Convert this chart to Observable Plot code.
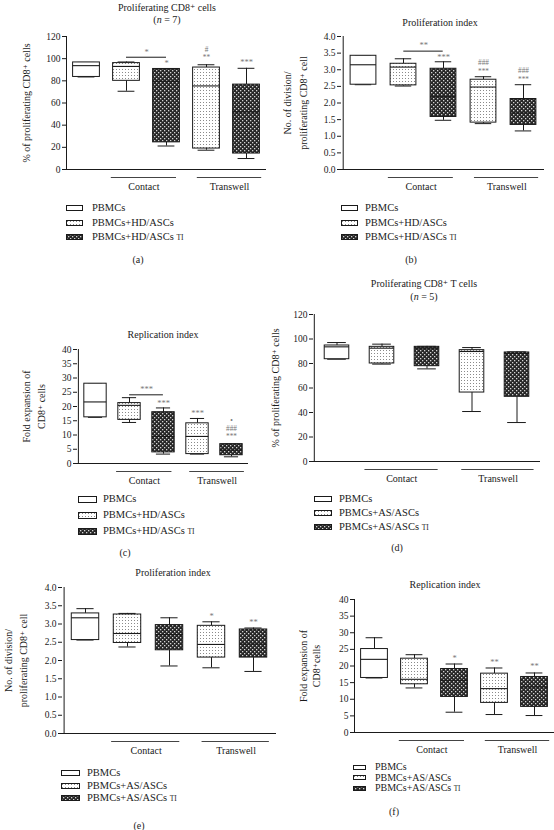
<!DOCTYPE html>
<html><head><meta charset="utf-8">
<script src="https://cdn.jsdelivr.net/npm/d3@7"></script>
<script src="https://cdn.jsdelivr.net/npm/@observablehq/plot@0.6"></script>
<style>
body{margin:0;background:#fff;}
#page{position:relative;width:554px;height:830px;overflow:hidden;font-family:"Liberation Serif","DejaVu Serif",serif;color:#222;}
#page svg.plot{position:absolute;overflow:visible;}
.t{position:absolute;transform:translate(-50%,-50%);white-space:nowrap;font-size:10px;line-height:1;}
.lg{position:absolute;transform:translateY(-50%);white-space:nowrap;font-size:10.5px;line-height:1;}
.sw{position:absolute;}
</style></head>
<body>
<svg width="0" height="0" style="position:absolute">
<defs>
<pattern id="pDots" width="3" height="3" patternUnits="userSpaceOnUse">
<rect width="3" height="3" fill="#fff"/><rect x="1" y="1" width="1" height="1" fill="#8a8a8a"/>
</pattern>
<pattern id="pDark" width="4" height="4" patternUnits="userSpaceOnUse">
<rect width="4" height="4" fill="#262626"/><rect x="0" y="0" width="1.3" height="1.3" fill="#d4d4d4"/><rect x="2" y="2" width="1.3" height="1.3" fill="#d4d4d4"/>
</pattern>
</defs></svg>
<div id="page"></div>
<script>
// ---------- data ----------
const categories = ["PBMCs", "ASCs|Contact", "ASCs TI|Contact", "ASCs|Transwell", "ASCs TI|Transwell"];
const seriesOf = ["PBMCs", "ASCs", "ASCs TI", "ASCs", "ASCs TI"];
const seriesNames = ["PBMCs", "ASCs", "ASCs TI"];
const groupNames = ["Contact", "Transwell"];
const groupFrom = [1, 3];
const groupTo = [2, 4];

const legendHD = ["PBMCs", "PBMCs+HD/ASCs", "PBMCs+HD/ASCs TI"];
const legendAS = ["PBMCs", "PBMCs+AS/ASCs", "PBMCs+AS/ASCs TI"];

// box stats per category: [min, q1, median, q3, max]
const boxA = [[83.5, 83.5, 93.7, 96.6, 96.6], [70.6, 80, 93, 96, 97], [21.2, 24.5, 79.6, 90.7, 90.7], [17.4, 18.9, 75.4, 92, 94.5], [9.9, 14.4, 52, 76.6, 91.3]];
const boxB = [[2.55, 2.55, 3.15, 3.42, 3.42], [2.51, 2.53, 3.08, 3.18, 3.33], [1.48, 1.58, 2.19, 3.03, 3.24], [1.38, 1.41, 2.48, 2.70, 2.79], [1.16, 1.34, 1.70, 2.12, 2.55]];
const boxC = [[16.2, 16.2, 21.6, 28, 28], [14.4, 15.3, 20.4, 21.2, 23.1], [3.3, 3.9, 9.5, 18, 19.5], [3.3, 3.3, 9.5, 14.1, 15.8], [2.35, 2.9, 4.7, 6.8, 6.8]];
const boxD = [[83.5, 83.5, 93.6, 94.7, 97.1], [79.5, 80, 92.5, 93.6, 95.8], [75.6, 77.8, 92.5, 93.6, 94], [40.8, 56.3, 89.8, 90.9, 93], [31.8, 52.8, 88.2, 89, 89.5]];
const boxE = [[2.56, 2.56, 3.17, 3.29, 3.42], [2.37, 2.48, 2.74, 3.26, 3.29], [1.85, 2.28, 2.71, 2.97, 3.17], [1.80, 2.08, 2.44, 2.95, 3.06], [1.70, 2.08, 2.45, 2.85, 2.89]];
const boxF = [[16.4, 16.4, 22, 25.1, 28.5], [13.4, 14.5, 16, 22.2, 23.4], [6.1, 10.7, 15.7, 19.1, 20.6], [5.4, 8.9, 13.2, 17.7, 19.4], [5.1, 7.7, 13.7, 16.7, 17.9]];

// significance marks: [category index, y value (centre), label (stacked lines)]
const annA = [[2, 95.9, "*"], [3, 104.4, "#\n**"], [4, 96.8, "***"]];
const annB = [[2, 3.38, "***"], [3, 3.095, "###\n***"], [4, 2.855, "###\n***"]];
const annC = [[2, 21.3, "***"], [3, 17.6, "***"], [4, 12.3, "•\n###\n***"]];
const annD = [];
const annE = [[3, 3.2, "*"], [4, 3.06, "**"]];
const annF = [[2, 22.2, "*"], [3, 21.2, "**"], [4, 19.9, "**"]];

// comparison brackets: [from index, to index, y value, label, label y]
const bracketA = [[1, 2, 101.3, "*", 105.9]];
const bracketB = [[1, 2, 3.56, "**", 3.73]];
const bracketC = [[1, 2, 24.1, "***", 26.0]];

const titles = ["Proliferating CD8⁺ cells", "Proliferation index", "Replication index", "Proliferating CD8⁺ T cells", "Proliferation index", "Replication index"];
const subtitles = ["(n = 7)", "", "", "(n = 5)", "", ""];
const ylabels = ["% of proliferating CD8⁺ cells", "No. of division/\nproliferating CD8⁺ cell", "Fold expansion of\nCD8⁺ cells", "% of proliferating CD8⁺ cells", "No. of division/\nproliferating CD8⁺ cell", "Fold expansion of\nCD8⁺cells"];
const letters = ["(a)", "(b)", "(c)", "(d)", "(e)", "(f)"];

// ---------- styles / layout ----------
const seriesFill = ["#fff", "url(#pDots)", "url(#pDark)"];
const ink = "#1a1a1a";
const fmtInt = d => String(d);
const fmt1 = d => d.toFixed(1);

const panels = [
  {boxes: boxA, ann: annA, br: bracketA, legend: legendHD, left: -8, axisX: 66, xEnd: 266, yTop: 36, yBot: 169, max: 120, step: 20, fmt: fmtInt, boxFrac: 0.67, labelDx: -41, lineH: 1.5, annLH: 1.1,
   titleX: 167, titleY: [8, 20], lgSw: 66, lgTx: 92, lgY: [208, 222.5, 237], sw: [17, 6], letterX: 138, letterY: 260},
  {boxes: boxB, ann: annB, br: bracketB, legend: legendHD, left: 269, axisX: 341, xEnd: 544, yTop: 36, yBot: 169, max: 4, step: 0.5, fmt: fmt1, boxFrac: 0.65, labelDx: -47.5, lineH: 1.6, annLH: 1.2,
   titleX: 440, titleY: [23], lgSw: 341, lgTx: 365, lgY: [208, 222.5, 237], sw: [17, 6], letterX: 411, letterY: 260},
  {boxes: boxC, ann: annC, br: bracketC, legend: legendHD, left: -8, axisX: 77, xEnd: 248, yTop: 349, yBot: 463, max: 40, step: 5, fmt: fmtInt, boxFrac: 0.66, labelDx: -44.5, lineH: 1.5, annLH: 1.1,
   titleX: 163, titleY: [335], lgSw: 78, lgTx: 103, lgY: [499, 515, 531], sw: [19, 7], letterX: 125, letterY: 553},
  {boxes: boxD, ann: annD, br: [], legend: legendAS, left: 262, axisX: 313, xEnd: 540, yTop: 314, yBot: 461, max: 120, step: 20, fmt: fmtInt, boxFrac: 0.55, labelDx: -39, lineH: 1.5, annLH: 1,
   titleX: 424, titleY: [284, 297], lgSw: 314, lgTx: 339, lgY: [499, 513, 527], sw: [18, 6], letterX: 397, letterY: 548},
  {boxes: boxE, ann: annE, br: [], legend: legendAS, left: -8, axisX: 62, xEnd: 276, yTop: 587, yBot: 733, max: 4, step: 0.5, fmt: fmt1, boxFrac: 0.66, labelDx: -47.5, lineH: 1.45, annLH: 1,
   titleX: 173, titleY: [573], lgSw: 61, lgTx: 87, lgY: [773, 785.5, 798], sw: [19, 6], letterX: 139, letterY: 826},
  {boxes: boxF, ann: annF, br: [], legend: legendAS, left: 269, axisX: 354, xEnd: 554, yTop: 599, yBot: 732, max: 40, step: 5, fmt: fmtInt, boxFrac: 0.67, labelDx: -45.5, lineH: 1.3, annLH: 1,
   titleX: 445, titleY: [585], lgSw: 353, lgTx: 375, lgY: [767, 777.5, 788], sw: [13, 5], letterX: 394, letterY: 812}
];

const page = document.getElementById("page");

function addDiv(cls, html, x, y, extra) {
  const d = document.createElement("div");
  d.className = cls;
  d.innerHTML = html;
  d.style.left = x + "px";
  d.style.top = y + "px";
  if (extra) Object.assign(d.style, extra);
  page.appendChild(d);
  return d;
}

function drawPanel(p, k) {
  const bw = (p.xEnd - p.axisX) / 5;
  const mL = p.axisX - p.left, mR = 4, mT = 10, mB = 30;
  const rows = categories.map((c, i) => ({cat: c, series: seriesOf[i], min: p.boxes[i][0], q1: p.boxes[i][1], med: p.boxes[i][2], q3: p.boxes[i][3], max: p.boxes[i][4]}));
  const ann = p.ann.map(([i, y, label]) => ({cat: categories[i], y, label}));
  const br = p.br.map(([i, j, y, label, ly]) => ({from: categories[i], to: categories[j], y, label, ly}));
  const boxIn = bw * (1 - p.boxFrac) / 2;
  const capIn = bw * (1 - 0.42) / 2;
  const groupMarks = groupNames.flatMap((g, gi) => {
    const inL = bw * (gi === 0 ? 0.12 : 0.27), inR = bw * (gi === 0 ? 0.25 : 0.12);
    const d = [{from: categories[groupFrom[gi]], to: categories[groupTo[gi]], label: g}];
    return [
      Plot.ruleY(d, {x1: "from", x2: "to", y: () => 0, dy: 8, insetLeft: inL, insetRight: inR, stroke: "#444"}),
      Plot.text(d, {x: "from", y: () => 0, text: "label", dx: bw / 2 + (inL - inR) / 2, dy: 17.5, fontSize: 10, fill: ink})
    ];
  });
  const plot = Plot.plot({
    width: p.xEnd - p.axisX + mL + mR,
    height: p.yBot - p.yTop + mT + mB,
    marginLeft: mL, marginRight: mR, marginTop: mT, marginBottom: mB,
    style: {fontFamily: '"Liberation Serif", "DejaVu Serif", serif', fontSize: "9.5px", color: ink, background: "transparent"},
    x: {domain: categories, padding: 0, axis: null},
    y: {domain: [0, p.max], axis: null},
    marks: [
      Plot.axisY({ticks: d3.range(0, p.max + 1e-9, p.step), tickFormat: p.fmt, tickSize: 4, tickPadding: 2, label: null, fontSize: 9.5}),
      Plot.ruleY([0], {stroke: ink}),
      Plot.ruleX([categories[0]], {x: d => d, y1: 0, y2: p.max, dx: -bw / 2, stroke: ink}),
      Plot.ruleX(rows, {x: "cat", y1: "min", y2: "q1", stroke: ink}),
      Plot.ruleX(rows, {x: "cat", y1: "q3", y2: "max", stroke: ink}),
      Plot.tickY(rows, {x: "cat", y: "min", insetLeft: capIn, insetRight: capIn, stroke: ink}),
      Plot.tickY(rows, {x: "cat", y: "max", insetLeft: capIn, insetRight: capIn, stroke: ink}),
      ...seriesNames.map((s, j) => Plot.barY(rows, {filter: d => d.series === s, x: "cat", y1: "q1", y2: "q3", fill: seriesFill[j], stroke: ink, strokeWidth: 1, insetLeft: boxIn, insetRight: boxIn})),
      Plot.tickY(rows, {x: "cat", y: "med", insetLeft: boxIn, insetRight: boxIn, stroke: ink, strokeWidth: 1.1}),
      Plot.ruleY(br, {x1: "from", x2: "to", y: "y", insetLeft: bw / 2, insetRight: bw / 2, stroke: ink}),
      Plot.text(br, {x: "from", y: "ly", text: "label", dx: bw / 2, fill: "#777", fontSize: 8.5}),
      Plot.text(ann, {x: "cat", y: "y", text: "label", fill: "#777", fontSize: d => d.label.includes("\n") ? 7.3 : 8.5, lineHeight: p.annLH}),
      Plot.text([ylabels[k]], {frameAnchor: "left", textAnchor: "middle", lineAnchor: "middle", rotate: -90, dx: p.labelDx, fontSize: 10, lineHeight: p.lineH, fill: ink}),
      ...groupMarks
    ]
  });
  plot.classList.add("plot");
  plot.style.left = p.left + "px";
  plot.style.top = (p.yTop - mT) + "px";
  page.appendChild(plot);

  // title
  addDiv("t", titles[k], p.titleX, p.titleY[0]);
  if (subtitles[k]) addDiv("t", subtitles[k].replace(/\bn\b/, "<i>n</i>"), p.titleX, p.titleY[1]);

  // legend
  p.legend.forEach((lab, i) => {
    const [w, h] = p.sw;
    const sw = document.createElement("div");
    sw.className = "sw";
    sw.style.left = p.lgSw + "px";
    sw.style.top = (p.lgY[i] - h / 2) + "px";
    sw.innerHTML = `<svg width="${w}" height="${h}" style="display:block"><rect x="0.5" y="0.5" width="${w - 1}" height="${h - 1}" fill="${seriesFill[i]}" stroke="${ink}"/></svg>`;
    page.appendChild(sw);
    const html = lab.replace(/ TI$/, ' <span style="font-size:0.72em">TI</span>');
    addDiv("lg", html, p.lgTx, p.lgY[i], k === 5 ? {fontSize: "10px"} : null);
  });

  addDiv("t", letters[k], p.letterX, p.letterY);
}

panels.forEach(drawPanel);
</script>
</body></html>
